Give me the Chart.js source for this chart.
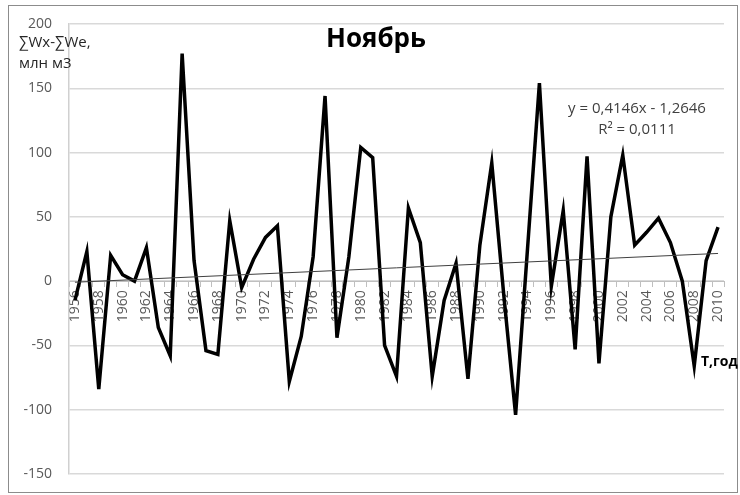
<!DOCTYPE html>
<html>
<head>
<meta charset="utf-8">
<script src="https://cdn.jsdelivr.net/npm/chart.js@4.4.1/dist/chart.umd.min.js"></script>
<style>
    html, body { margin: 0; padding: 0; background: #fff; }
    #wrap { width: 740px; height: 495px; }
</style>
</head>
<body>
<div id="wrap"><canvas id="chart" width="740" height="495"></canvas></div>
<script>
// Годы (ось X)
const YEARS = [
    '1956', '1957', '1958', '1959', '1960', '1961', '1962', '1963', '1964', '1965',
    '1966', '1967', '1968', '1969', '1970', '1971', '1972', '1973', '1974', '1975',
    '1976', '1977', '1978', '1979', '1980', '1981', '1982', '1983', '1984', '1985',
    '1986', '1987', '1988', '1989', '1990', '1991', '1992', '1993', '1994', '1995',
    '1996', '1997', '1998', '1999', '2000', '2001', '2002', '2003', '2004', '2005',
    '2006', '2007', '2008', '2009', '2010'
];

// ∑Wx-∑We, млн м3
const BALANCE = [
    -15, 23, -84, 20, 5, 0, 26, -36, -58, 177,
    16, -54, -57, 47, -5, 17, 34, 43, -78, -43,
    19, 144, -44, 19, 104, 96, -50, -74, 57, 30,
    -74, -15, 14, -76, 28, 92, -10, -104, 25, 154,
    -4, 55, -53, 97, -64, 50, 98, 28, 38, 49,
    30, 0, -66, 16, 42
];

// Линия тренда: концы (y = 0,4146x - 1,2646 при x = 1 и x = 55)
const TREND_YEARS = ['1956', '2010'];
const TREND_VALUES = [-0.85, 21.54];

const Y_TICKS = [-150, -100, -50, 0, 50, 100, 150, 200];

const FONT = "'Open Sans', sans-serif";
Chart.defaults.font.family = FONT;

// Рамка и надписи поверх графика
const decorPlugin = {
    id: 'decor',
    beforeDraw(chart) {
        const ctx = chart.ctx;
        ctx.save();
        ctx.fillStyle = '#fff';
        ctx.fillRect(0, 0, chart.width, chart.height);
        ctx.restore();
    },
    afterDraw(chart) {
        const ctx = chart.ctx;
        ctx.save();
        ctx.strokeStyle = '#8c8c8c';
        ctx.lineWidth = 1;
        ctx.strokeRect(8.5, 5.5, 729, 487);

        ctx.fillStyle = '#000';
        ctx.textAlign = 'center';
        ctx.textBaseline = 'alphabetic';
        ctx.font = `bold 26px ${FONT}`;
        ctx.fillText('Ноябрь', 376, 47);

        ctx.textAlign = 'left';
        ctx.fillStyle = '#262626';
        ctx.font = `15px ${FONT}`;
        ctx.fillText('∑Wx-∑We,', 19, 47);
        ctx.fillText('млн м3', 19, 68);

        ctx.fillStyle = '#000';
        ctx.font = `bold 14px ${FONT}`;
        ctx.fillText('T,год', 701, 366);

        ctx.textAlign = 'center';
        ctx.fillStyle = '#404040';
        ctx.font = `15px ${FONT}`;
        ctx.fillText('y = 0,4146x - 1,2646', 637, 113);
        ctx.fillText('R² = 0,0111', 637, 134);
        ctx.restore();
    }
};

new Chart(document.getElementById('chart').getContext('2d'), {
    type: 'line',
    data: {
        labels: YEARS,
        datasets: [
            {
                data: TREND_YEARS.map((y, i) => ({ x: y, y: TREND_VALUES[i] })),
                borderColor: '#404040',
                borderWidth: 1,
                pointRadius: 0,
                fill: false
            },
            {
                data: BALANCE,
                borderColor: '#000',
                borderWidth: 3.5,
                pointRadius: 0,
                tension: 0,
                fill: false
            }
        ]
    },
    options: {
        responsive: false,
        animation: false,
        layout: { padding: { left: 8, right: 16, top: 24, bottom: 21 } },
        plugins: {
            legend: { display: false },
            title: { display: false },
            tooltip: { enabled: false }
        },
        scales: {
            x: {
                type: 'category',
                position: { y: 0 },
                offset: true,
                grid: {
                    offset: true,
                    drawOnChartArea: false,
                    drawTicks: true,
                    tickLength: 5,
                    color: '#bfbfbf',
                    lineWidth: 1
                },
                border: { display: true, color: '#bfbfbf', width: 1 },
                ticks: {
                    autoSkip: false,
                    minRotation: 90,
                    maxRotation: 90,
                    padding: 4,
                    color: '#595959',
                    font: { size: 14 },
                    callback: function (value, index) {
                        return index % 2 === 0 ? this.getLabelForValue(value) : '';
                    }
                }
            },
            y: {
                min: -150,
                max: 200,
                afterBuildTicks: (scale) => {
                    scale.ticks = Y_TICKS.map(v => ({ value: v }));
                },
                afterFit: (scale) => {
                    scale.width = 61;
                    scale.paddingTop = 0;
                    scale.paddingBottom = 0;
                },
                grid: {
                    color: '#d9d9d9',
                    lineWidth: 1.5,
                    drawTicks: false
                },
                border: { display: true, color: '#d0d0d0', width: 1.5 },
                ticks: {
                    padding: 17,
                    color: '#595959',
                    font: { size: 14 }
                }
            }
        }
    },
    plugins: [decorPlugin]
});
</script>
</body>
</html>
